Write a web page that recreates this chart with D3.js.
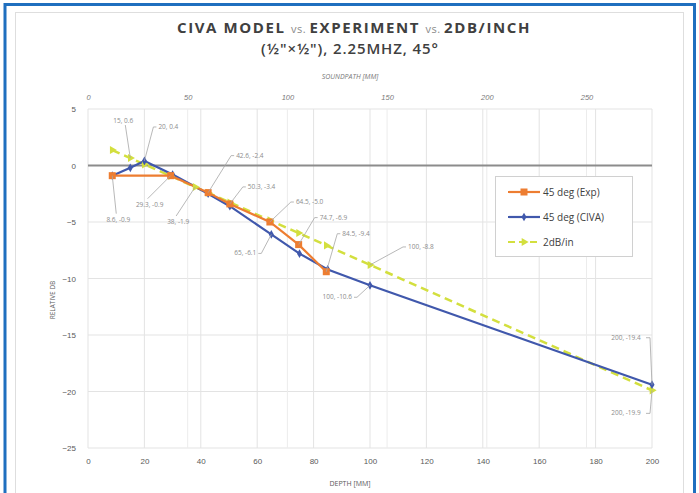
<!DOCTYPE html>
<html><head><meta charset="utf-8">
<script src="https://cdn.jsdelivr.net/npm/d3@7"></script>
<style>
html,body{margin:0;padding:0;background:#fff;}
svg{display:block;font-family:"Open Sans","Noto Sans",sans-serif;}
</style></head>
<body><svg id="c" width="699" height="493"></svg>
<script>
// ---- data ----
const expDepth  = [8.6, 29.3, 42.6, 50.3, 64.5, 74.7, 84.5];
const expDb     = [-0.9, -0.9, -2.4, -3.4, -5.0, -7.0, -9.4];
const civaDepth = [8.6, 15, 20, 30, 42.6, 50.3, 65, 75, 85, 100, 200];
const civaDb    = [-0.9, -0.2, 0.4, -0.8, -2.5, -3.6, -6.1, -7.8, -9.2, -10.6, -19.4];
const refDepth  = [8.6, 15, 20, 29.3, 38, 42.6, 50.3, 64.5, 74.7, 84.5, 100, 200];
const refDb     = [1.37, 0.66, 0.1, -0.93, -1.9, -2.41, -3.27, -4.85, -5.98, -7.07, -8.8, -19.9];
const seriesNames = ["45 deg (Exp)", "45 deg (CIVA)", "2dB/in"];
const depthTicks = [0, 20, 40, 60, 80, 100, 120, 140, 160, 180, 200];
const soundTicks = [0, 50, 100, 150, 200, 250];
const dbTicks = [5, 0, -5, -10, -15, -20, -25];
// data labels: [series, depth, text]
const labelSeries = ["ref", "civa", "civa", "exp", "ref", "exp", "exp", "exp", "exp", "exp", "civa", "ref", "civa", "civa", "ref"];
const labelDepth  = [15, 20, 8.6, 29.3, 38, 42.6, 50.3, 64.5, 74.7, 84.5, 65, 100, 100, 200, 200];
const labelText   = ["15, 0.6", "20, 0.4", "8.6, -0.9", "29.3, -0.9", "38, -1.9", "42.6, -2.4", "50.3, -3.4",
                     "64.5, -5.0", "74.7, -6.9", "84.5, -9.4", "65, -6.1", "100, -8.8", "100, -10.6", "200, -19.4", "200, -19.9"];

// ---- layout (styling) ----
const labelLayout = [
  {dx:-7, dy:-35, a:"middle"}, {dx:14, dy:-32, a:"start"}, {dx:6, dy:46, a:"middle"},
  {dx:-21, dy:31, a:"middle"}, {dx:-17, dy:37, a:"middle"}, {dx:28, dy:-35, a:"start"},
  {dx:18, dy:-15, a:"start"}, {dx:26, dy:-18, a:"start"}, {dx:21, dy:-25, a:"start"},
  {dx:16, dy:-36, a:"start"}, {dx:-15, dy:21, a:"end"}, {dx:38, dy:-16, a:"start"},
  {dx:-18, dy:14, a:"end"}, {dx:-26, dy:-45, a:"middle", corner:true}, {dx:-26, dy:25, a:"middle", corner:true}
];
const colExp = "#ed7d31", colCiva = "#4058ac", colRef = "#d3df3e";

const svg = d3.select("#c");
// frame
svg.append("rect").attr("x",15.5).attr("y",12.5).attr("width",668).attr("height",500)
  .attr("fill","none").attr("stroke","#dedede");
svg.append("path").attr("d","M5,493 V4.5 H694.5 V493").attr("fill","none").attr("stroke","#1f6fbf").attr("stroke-width",3);

const x = d3.scaleLinear().domain([0,200]).range([88,652]);
const xTop = d3.scaleLinear().domain([0,200*Math.SQRT2]).range([88,652]);
const y = d3.scaleLinear().domain([-25,5]).range([448,109]);

// grid
const g = svg.append("g");
g.selectAll(".hg").data(dbTicks).join("line").attr("x1",88).attr("x2",652)
  .attr("y1",d=>y(d)).attr("y2",d=>y(d)).attr("stroke","#e3e3e3");
g.selectAll(".vg").data(depthTicks).join("line").attr("x1",d=>x(d)).attr("x2",d=>x(d))
  .attr("y1",109).attr("y2",448).attr("stroke","#e3e3e3");
g.selectAll(".vg2").data(soundTicks.slice(1)).join("line").attr("x1",d=>xTop(d)).attr("x2",d=>xTop(d))
  .attr("y1",109).attr("y2",448).attr("stroke","#ececec");
// zero line
g.append("line").attr("x1",88).attr("x2",652).attr("y1",y(0)).attr("y2",y(0)).attr("stroke","#8c8c8c").attr("stroke-width",2);

// axes
const axB = svg.append("g").attr("transform","translate(0,448)")
  .call(d3.axisBottom(x).tickValues(depthTicks).tickSize(0).tickPadding(10));
const axL = svg.append("g").attr("transform","translate(88,0)")
  .call(d3.axisLeft(y).tickValues(dbTicks).tickSize(0).tickPadding(12));
const axT = svg.append("g").attr("transform","translate(0,109)")
  .call(d3.axisTop(xTop).tickValues(soundTicks).tickSize(0).tickPadding(9));
[axB,axL,axT].forEach(a=>{a.select(".domain").remove();
  a.selectAll("text").attr("fill","#595959").attr("font-size",8);});
axT.selectAll("text").attr("font-style","italic").attr("fill","#7a7a7a").attr("font-size",7.5);

svg.append("text").attr("x",350).attr("y",486).attr("text-anchor","middle").attr("font-size",7)
  .attr("fill","#595959").text("DEPTH [MM]");
svg.append("text").attr("x",350).attr("y",79).attr("text-anchor","middle").attr("font-size",7)
  .attr("font-style","italic").attr("fill","#7a7a7a").text("SOUNDPATH [MM]");
svg.append("text").attr("transform","translate(55,300) rotate(-90)").attr("text-anchor","middle")
  .attr("font-size",6.5).attr("fill","#595959").text("RELATIVE DB");

// title
const t1 = svg.append("text").attr("x",354).attr("y",33).attr("text-anchor","middle")
  .attr("font-size",15).attr("font-weight",700).attr("fill","#404040").attr("letter-spacing",1.6);
t1.append("tspan").text("CIVA MODEL ");
t1.append("tspan").attr("font-size",11).attr("font-weight",400).attr("fill","#8a8a8a").attr("letter-spacing",0.5).text("vs. ");
t1.append("tspan").text("EXPERIMENT ");
t1.append("tspan").attr("font-size",11).attr("font-weight",400).attr("fill","#8a8a8a").attr("letter-spacing",0.5).text("vs. ");
t1.append("tspan").text("2DB/INCH");
svg.append("text").attr("x",350).attr("y",54).attr("text-anchor","middle").attr("letter-spacing",0.9)
  .attr("font-size",15).attr("fill","#404040").attr("font-weight",600).text("(½\"×½\"), 2.25MHZ, 45°");

// series
const zip = (a,b)=>a.map((d,i)=>[d,b[i]]);
const expPts = zip(expDepth,expDb), civaPts = zip(civaDepth,civaDb), refPts = zip(refDepth,refDb);
const line = d3.line().x(d=>x(d[0])).y(d=>y(d[1]));
const plot = svg.append("g");

const ptsBy = {exp:expPts, civa:civaPts, ref:refPts};
const lab = svg.append("g");
labelText.forEach((txt,i)=>{
  const s = ptsBy[labelSeries[i]];
  const p = s.find(d=>d[0]===labelDepth[i]);
  const px = x(p[0]), py = y(p[1]);
  const L = labelLayout[i];
  const lx = px+L.dx, ly = py+L.dy;
  let pts;
  const w = txt.length*3.6;
  if (L.corner) {
    pts = [[lx+w/2+2, ly-2],[px-2, ly-2],[px, py]];
  } else if (L.a==="start") {
    pts = [[lx-2, ly-2],[lx-5, ly-2],[px, py]];
  } else if (L.a==="end") {
    pts = [[lx+2, ly-2],[lx+5, ly-2],[px, py]];
  } else {
    pts = [[lx + (L.dy<0? 2:-2), L.dy<0? ly+2 : ly-8],[px,py]];
  }
  lab.append("path").attr("d", d3.line()(pts)).attr("fill","none").attr("stroke","#a6a6a6").attr("stroke-width",0.8);
  lab.append("text").attr("x",lx).attr("y",ly).attr("text-anchor",L.a).attr("font-size",6.5)
    .attr("fill","#8c8c8c").text(txt);
});

plot.append("path").attr("d",line(refPts)).attr("fill","none").attr("stroke",colRef)
  .attr("stroke-width",2.5).attr("stroke-dasharray","8,5");
plot.append("path").attr("d",line(civaPts)).attr("fill","none").attr("stroke",colCiva).attr("stroke-width",2.2);
plot.append("path").attr("d",line(expPts)).attr("fill","none").attr("stroke",colExp).attr("stroke-width",2.2);

const tri = d3.symbol().type(d3.symbolTriangle).size(28);
plot.selectAll(".rm").data(refPts).join("path").attr("d",tri)
  .attr("transform",d=>`translate(${x(d[0])},${y(d[1])}) rotate(90)`).attr("fill",colRef);
const dia = d3.symbol().type(d3.symbolDiamond).size(22);
plot.selectAll(".cm").data(civaPts).join("path").attr("d",dia)
  .attr("transform",d=>`translate(${x(d[0])},${y(d[1])})`).attr("fill",colCiva);
plot.selectAll(".em").data(expPts).join("rect").attr("x",d=>x(d[0])-3.5).attr("y",d=>y(d[1])-3.5)
  .attr("width",7).attr("height",7).attr("fill",colExp);

// legend
const lg = svg.append("g");
lg.append("rect").attr("x",495.5).attr("y",176.5).attr("width",137).attr("height",80)
  .attr("fill","#fff").attr("stroke","#d0d0d0");
const legCols = [colExp, colCiva, colRef];
seriesNames.forEach((n,i)=>{
  const yy = 192 + i*25;
  const ln = lg.append("line").attr("x1",508).attr("x2",540).attr("y1",yy).attr("y2",yy)
    .attr("stroke",legCols[i]).attr("stroke-width",2.2);
  if (i===2) ln.attr("stroke-dasharray","7,4");
  if (i===0) lg.append("rect").attr("x",520.5).attr("y",yy-3.5).attr("width",7).attr("height",7).attr("fill",colExp);
  if (i===1) lg.append("path").attr("d",dia).attr("transform",`translate(524,${yy})`).attr("fill",colCiva);
  if (i===2) lg.append("path").attr("d",tri).attr("transform",`translate(524,${yy}) rotate(90)`).attr("fill",colRef);
  lg.append("text").attr("x",543).attr("y",yy+3.5).attr("font-size",10).attr("fill","#404040").text(n);
});
</script></body></html>
